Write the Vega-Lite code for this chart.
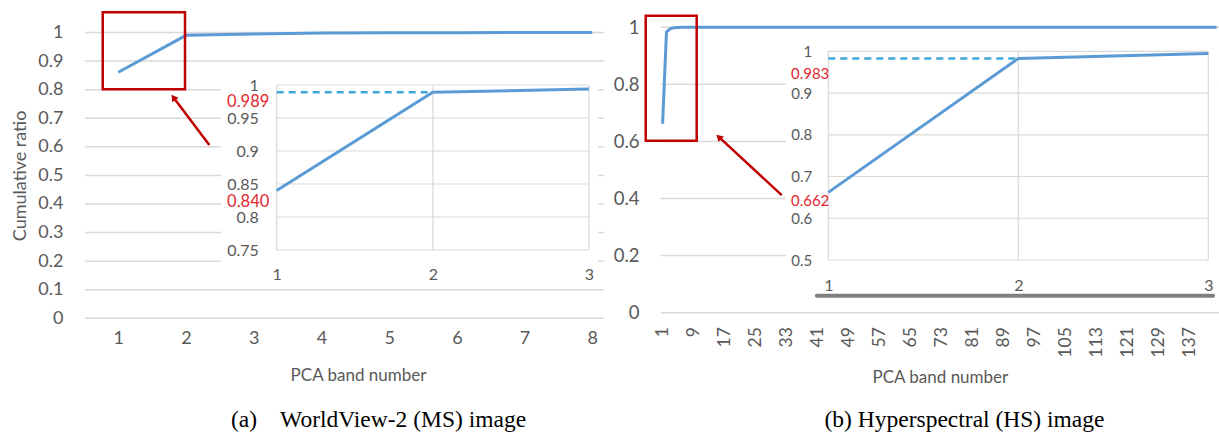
{
  "$schema": "https://vega.github.io/schema/vega-lite/v6.json",
  "width": 1219,
  "height": 435,
  "autosize": "none",
  "padding": 0,
  "background": "white",
  "config": {
    "view": {"stroke": null},
    "font": "Lato",
    "axis": {
      "labelFont": "Lato", "labelColor": "#595959", "titleFont": "Lato", "titleColor": "#595959",
      "titleFontWeight": "normal", "domain": false, "ticks": false, "grid": false,
      "labelFlush": false, "labelOverlap": false
    }
  },
  "datasets": {
    "ms_main": [
      {"band": 1, "ratio": 0.861}, {"band": 2, "ratio": 0.99}, {"band": 3, "ratio": 0.995}, {"band": 4, "ratio": 0.998},
      {"band": 5, "ratio": 0.999}, {"band": 6, "ratio": 0.999}, {"band": 7, "ratio": 1.0}, {"band": 8, "ratio": 1.0}
    ],
    "ms_main_gy": [{"t": 0}, {"t": 0.1}, {"t": 0.2}, {"t": 0.3}, {"t": 0.4}, {"t": 0.5}, {"t": 0.6}, {"t": 0.7}, {"t": 0.8}, {"t": 0.9}, {"t": 1}],
    "hs_main_gy": [{"t": 0}, {"t": 0.2}, {"t": 0.4}, {"t": 0.6}, {"t": 0.8}, {"t": 1}],
    "ms_inset": [{"band": 1, "ratio": 0.84}, {"band": 2, "ratio": 0.989}, {"band": 3, "ratio": 0.994}],
    "ms_inset_gy": [{"t": 0.75}, {"t": 0.8}, {"t": 0.85}, {"t": 0.9}, {"t": 0.95}, {"t": 1}],
    "inset_gx": [{"t": 1}, {"t": 2}, {"t": 3}],
    "hs_inset": [{"band": 1, "ratio": 0.662}, {"band": 2, "ratio": 0.983}, {"band": 3, "ratio": 0.995}],
    "hs_inset_gy": [{"t": 0.5}, {"t": 0.6}, {"t": 0.7}, {"t": 0.8}, {"t": 0.9}, {"t": 1}],
    "hs_main": [
      {"band": 1, "ratio": 0.662}, {"band": 2, "ratio": 0.983}, {"band": 3, "ratio": 0.995}, {"band": 4, "ratio": 0.998},
      {"band": 5, "ratio": 0.999}, {"band": 6, "ratio": 1}, {"band": 7, "ratio": 1}, {"band": 8, "ratio": 1},
      {"band": 9, "ratio": 1}, {"band": 10, "ratio": 1}, {"band": 11, "ratio": 1}, {"band": 12, "ratio": 1},
      {"band": 13, "ratio": 1}, {"band": 14, "ratio": 1}, {"band": 15, "ratio": 1}, {"band": 16, "ratio": 1},
      {"band": 17, "ratio": 1}, {"band": 18, "ratio": 1}, {"band": 19, "ratio": 1}, {"band": 20, "ratio": 1},
      {"band": 21, "ratio": 1}, {"band": 22, "ratio": 1}, {"band": 23, "ratio": 1}, {"band": 24, "ratio": 1},
      {"band": 25, "ratio": 1}, {"band": 26, "ratio": 1}, {"band": 27, "ratio": 1}, {"band": 28, "ratio": 1},
      {"band": 29, "ratio": 1}, {"band": 30, "ratio": 1}, {"band": 31, "ratio": 1}, {"band": 32, "ratio": 1},
      {"band": 33, "ratio": 1}, {"band": 34, "ratio": 1}, {"band": 35, "ratio": 1}, {"band": 36, "ratio": 1},
      {"band": 37, "ratio": 1}, {"band": 38, "ratio": 1}, {"band": 39, "ratio": 1}, {"band": 40, "ratio": 1},
      {"band": 41, "ratio": 1}, {"band": 42, "ratio": 1}, {"band": 43, "ratio": 1}, {"band": 44, "ratio": 1},
      {"band": 45, "ratio": 1}, {"band": 46, "ratio": 1}, {"band": 47, "ratio": 1}, {"band": 48, "ratio": 1},
      {"band": 49, "ratio": 1}, {"band": 50, "ratio": 1}, {"band": 51, "ratio": 1}, {"band": 52, "ratio": 1},
      {"band": 53, "ratio": 1}, {"band": 54, "ratio": 1}, {"band": 55, "ratio": 1}, {"band": 56, "ratio": 1},
      {"band": 57, "ratio": 1}, {"band": 58, "ratio": 1}, {"band": 59, "ratio": 1}, {"band": 60, "ratio": 1},
      {"band": 61, "ratio": 1}, {"band": 62, "ratio": 1}, {"band": 63, "ratio": 1}, {"band": 64, "ratio": 1},
      {"band": 65, "ratio": 1}, {"band": 66, "ratio": 1}, {"band": 67, "ratio": 1}, {"band": 68, "ratio": 1},
      {"band": 69, "ratio": 1}, {"band": 70, "ratio": 1}, {"band": 71, "ratio": 1}, {"band": 72, "ratio": 1},
      {"band": 73, "ratio": 1}, {"band": 74, "ratio": 1}, {"band": 75, "ratio": 1}, {"band": 76, "ratio": 1},
      {"band": 77, "ratio": 1}, {"band": 78, "ratio": 1}, {"band": 79, "ratio": 1}, {"band": 80, "ratio": 1},
      {"band": 81, "ratio": 1}, {"band": 82, "ratio": 1}, {"band": 83, "ratio": 1}, {"band": 84, "ratio": 1},
      {"band": 85, "ratio": 1}, {"band": 86, "ratio": 1}, {"band": 87, "ratio": 1}, {"band": 88, "ratio": 1},
      {"band": 89, "ratio": 1}, {"band": 90, "ratio": 1}, {"band": 91, "ratio": 1}, {"band": 92, "ratio": 1},
      {"band": 93, "ratio": 1}, {"band": 94, "ratio": 1}, {"band": 95, "ratio": 1}, {"band": 96, "ratio": 1},
      {"band": 97, "ratio": 1}, {"band": 98, "ratio": 1}, {"band": 99, "ratio": 1}, {"band": 100, "ratio": 1},
      {"band": 101, "ratio": 1}, {"band": 102, "ratio": 1}, {"band": 103, "ratio": 1}, {"band": 104, "ratio": 1},
      {"band": 105, "ratio": 1}, {"band": 106, "ratio": 1}, {"band": 107, "ratio": 1}, {"band": 108, "ratio": 1},
      {"band": 109, "ratio": 1}, {"band": 110, "ratio": 1}, {"band": 111, "ratio": 1}, {"band": 112, "ratio": 1},
      {"band": 113, "ratio": 1}, {"band": 114, "ratio": 1}, {"band": 115, "ratio": 1}, {"band": 116, "ratio": 1},
      {"band": 117, "ratio": 1}, {"band": 118, "ratio": 1}, {"band": 119, "ratio": 1}, {"band": 120, "ratio": 1},
      {"band": 121, "ratio": 1}, {"band": 122, "ratio": 1}, {"band": 123, "ratio": 1}, {"band": 124, "ratio": 1},
      {"band": 125, "ratio": 1}, {"band": 126, "ratio": 1}, {"band": 127, "ratio": 1}, {"band": 128, "ratio": 1},
      {"band": 129, "ratio": 1}, {"band": 130, "ratio": 1}, {"band": 131, "ratio": 1}, {"band": 132, "ratio": 1},
      {"band": 133, "ratio": 1}, {"band": 134, "ratio": 1}, {"band": 135, "ratio": 1}, {"band": 136, "ratio": 1},
      {"band": 137, "ratio": 1}, {"band": 138, "ratio": 1}, {"band": 139, "ratio": 1}, {"band": 140, "ratio": 1},
      {"band": 141, "ratio": 1}, {"band": 142, "ratio": 1}, {"band": 143, "ratio": 1}, {"band": 144, "ratio": 1}
    ]
  },
  "layer": [
    {
      "data": {"name": "ms_main_gy"},
      "mark": {"type": "rule", "color": "#D9D9D9", "strokeWidth": 1.5},
      "encoding": {
        "y": {"field": "t", "type": "quantitative", "scale": {"domain": [0, 1], "range": [318.3, 32.5], "nice": false, "zero": false}, "axis": null},
        "x": {"datum": 0.508, "type": "quantitative", "scale": {"domain": [0.508, 8.173], "range": [85, 604], "nice": false, "zero": false}, "axis": null},
        "x2": {"datum": 8.173}
      }
    },
    {
      "data": {"name": "hs_main_gy"},
      "mark": {"type": "rule", "color": "#D9D9D9", "strokeWidth": 1.5},
      "encoding": {
        "y": {"field": "t", "type": "quantitative", "scale": {"domain": [0, 1], "range": [312.7, 27.2], "nice": false, "zero": false}, "axis": null},
        "x": {"datum": 0.51, "type": "quantitative", "scale": {"domain": [0.51, 144.62], "range": [660.7, 1219], "nice": false, "zero": false}, "axis": null},
        "x2": {"datum": 144.62}
      }
    },
    {
      "data": {"name": "ms_main"},
      "mark": {"type": "line", "color": "#5B9BD5", "strokeWidth": 3},
      "encoding": {
        "x": {"field": "band", "type": "quantitative",
          "scale": {"domain": [0.508, 8.173], "range": [85, 604], "nice": false, "zero": false},
          "axis": {"orient": "bottom", "values": [1, 2, 3, 4, 5, 6, 7, 8], "format": "d", "labelFontSize": 18, "labelPadding": 0,
            "grid": false, "labelOverlap": false, "labelFlush": false,
            "offset": -106, "title": "PCA band number", "titleFontSize": 17, "titlePadding": 20, "titleX": 358}},
        "y": {"field": "ratio", "type": "quantitative",
          "scale": {"domain": [0, 1], "range": [318.3, 32.5], "nice": false, "zero": false},
          "axis": {"orient": "left", "values": [0, 0.1, 0.2, 0.3, 0.4, 0.5, 0.6, 0.7, 0.8, 0.9, 1], "format": "~g",
            "labelFontSize": 18, "offset": -70, "labelPadding": 7, "grid": false, "labelOverlap": false,
            "title": "Cumulative ratio", "titleFontSize": 18, "titlePadding": 8}}
      }
    },
    {
      "data": {"values": [{}]},
      "mark": {"type": "rect", "fill": "white", "fillOpacity": 0, "stroke": "#C00000", "strokeWidth": 2.5},
      "encoding": {
        "x": {"datum": 0.77, "type": "quantitative", "scale": {"domain": [0.508, 8.173], "range": [85, 604], "nice": false, "zero": false}, "axis": null},
        "x2": {"datum": 1.985},
        "y": {"datum": 1.071, "type": "quantitative", "scale": {"domain": [0, 1], "range": [318.3, 32.5], "nice": false, "zero": false}, "axis": null},
        "y2": {"datum": 0.801}
      }
    },
    {
      "data": {"values": [{}]},
      "mark": {"type": "rule", "color": "#C00000", "strokeWidth": 2.5},
      "encoding": {
        "x": {"datum": 2.344, "type": "quantitative", "scale": {"domain": [0.508, 8.173], "range": [85, 604], "nice": false, "zero": false}, "axis": null},
        "x2": {"datum": 1.824},
        "y": {"datum": 0.606, "type": "quantitative", "scale": {"domain": [0, 1], "range": [318.3, 32.5], "nice": false, "zero": false}, "axis": null},
        "y2": {"datum": 0.77}
      }
    },
    {
      "data": {"values": [{}]},
      "mark": {"type": "point", "shape": "triangle", "filled": true, "color": "#C00000", "opacity": 1, "size": 60, "angle": 323},
      "encoding": {
        "x": {"datum": 1.824, "type": "quantitative", "scale": {"domain": [0.508, 8.173], "range": [85, 604], "nice": false, "zero": false}, "axis": null},
        "y": {"datum": 0.77, "type": "quantitative", "scale": {"domain": [0, 1], "range": [318.3, 32.5], "nice": false, "zero": false}, "axis": null}
      }
    },
    {
      "data": {"values": [{}]},
      "mark": {"type": "text", "font": "Liberation Serif", "fontSize": 23.5, "color": "black", "align": "center", "baseline": "middle"},
      "encoding": {
        "x": {"datum": 4.843, "type": "quantitative", "scale": {"domain": [0.508, 8.173], "range": [85, 604], "nice": false, "zero": false}, "axis": null},
        "y": {"datum": -0.356, "type": "quantitative", "scale": {"domain": [0, 1], "range": [318.3, 32.5], "nice": false, "zero": false}, "axis": null},
        "text": {"value": "(a)\u00a0\u00a0\u00a0 WorldView-2 (MS) image"}
      }
    },
    {
      "data": {"values": [{}]},
      "mark": {"type": "rect", "fill": "white"},
      "encoding": {
        "x": {"datum": 0.643, "type": "quantitative", "scale": {"domain": [1, 3], "range": [276.7, 589], "nice": false, "zero": false}, "axis": null},
        "x2": {"datum": 3.058},
        "y": {"datum": 1.015, "type": "quantitative", "scale": {"domain": [0.75, 1], "range": [250, 85], "nice": false, "zero": false}, "axis": null},
        "y2": {"datum": 0.7015}
      }
    },
    {
      "data": {"name": "ms_inset_gy"},
      "mark": {"type": "rule", "color": "#D9D9D9", "strokeWidth": 1.2},
      "encoding": {
        "y": {"field": "t", "type": "quantitative", "scale": {"domain": [0.75, 1], "range": [250, 85], "nice": false, "zero": false}, "axis": null},
        "x": {"datum": 1, "type": "quantitative", "scale": {"domain": [1, 3], "range": [276.7, 589], "nice": false, "zero": false}, "axis": null},
        "x2": {"datum": 3}
      }
    },
    {
      "data": {"name": "inset_gx"},
      "mark": {"type": "rule", "color": "#D9D9D9", "strokeWidth": 1.2},
      "encoding": {
        "x": {"field": "t", "type": "quantitative", "scale": {"domain": [1, 3], "range": [276.7, 589], "nice": false, "zero": false}, "axis": null},
        "y": {"datum": 0.75, "type": "quantitative", "scale": {"domain": [0.75, 1], "range": [250, 85], "nice": false, "zero": false}, "axis": null},
        "y2": {"datum": 1}
      }
    },
    {
      "data": {"values": [{}]},
      "mark": {"type": "rule", "color": "#3CA8DC", "strokeWidth": 2.5, "strokeDash": [7, 5]},
      "encoding": {
        "x": {"datum": 1, "type": "quantitative", "scale": {"domain": [1, 3], "range": [276.7, 589], "nice": false, "zero": false}, "axis": null},
        "x2": {"datum": 2},
        "y": {"datum": 0.989, "type": "quantitative", "scale": {"domain": [0.75, 1], "range": [250, 85], "nice": false, "zero": false}, "axis": null}
      }
    },
    {
      "data": {"name": "ms_inset"},
      "mark": {"type": "line", "color": "#5B9BD5", "strokeWidth": 3},
      "encoding": {
        "x": {"field": "band", "type": "quantitative", "scale": {"domain": [1, 3], "range": [276.7, 589], "nice": false, "zero": false},
          "axis": {"orient": "bottom", "values": [1, 1.5, 2, 2.5, 3], "labelExpr": "datum.value % 1 == 0 ? format(datum.value, 'd') : ''",
            "labelFontSize": 16, "labelPadding": 0, "offset": -168.7, "title": null, "zindex": 1,
            "grid": false, "labelOverlap": false, "labelFlush": false}},
        "y": {"field": "ratio", "type": "quantitative", "scale": {"domain": [0.75, 1], "range": [250, 85], "nice": false, "zero": false},
          "axis": {"orient": "left", "values": [0.75, 0.8, 0.85, 0.9, 0.95, 1], "format": "~g", "labelFontSize": 16, "labelPadding": 0, "offset": -258.3, "title": null, "zindex": 1,
            "grid": false, "labelOverlap": false}}
      }
    },
    {
      "data": {"values": [{}]},
      "mark": {"type": "text", "font": "Lato", "fontSize": 16.5, "color": "#E0282E", "align": "right", "baseline": "middle", "dx": -7.4, "dy": 9.4},
      "encoding": {
        "x": {"datum": 1, "type": "quantitative", "scale": {"domain": [1, 3], "range": [276.7, 589], "nice": false, "zero": false}, "axis": null},
        "y": {"datum": 0.989, "type": "quantitative", "scale": {"domain": [0.75, 1], "range": [250, 85], "nice": false, "zero": false}, "axis": null},
        "text": {"value": "0.989"}
      }
    },
    {
      "data": {"values": [{}]},
      "mark": {"type": "text", "font": "Lato", "fontSize": 16.5, "color": "#E0282E", "align": "right", "baseline": "middle", "dx": -7.4, "dy": 11},
      "encoding": {
        "x": {"datum": 1, "type": "quantitative", "scale": {"domain": [1, 3], "range": [276.7, 589], "nice": false, "zero": false}, "axis": null},
        "y": {"datum": 0.84, "type": "quantitative", "scale": {"domain": [0.75, 1], "range": [250, 85], "nice": false, "zero": false}, "axis": null},
        "text": {"value": "0.840"}
      }
    },
    {
      "data": {"name": "hs_main"},
      "mark": {"type": "line", "color": "#5B9BD5", "strokeWidth": 3},
      "encoding": {
        "x": {"field": "band", "type": "quantitative",
          "scale": {"domain": [0.51, 144.62], "range": [660.7, 1219], "nice": false, "zero": false},
          "axis": {"orient": "bottom", "values": [1, 9, 17, 25, 33, 41, 49, 57, 65, 73, 81, 89, 97, 105, 113, 121, 129, 137],
            "format": "d", "labelFontSize": 17.5, "labelAngle": 270, "labelPadding": 0, "offset": -108.3,
            "grid": false, "labelOverlap": false, "labelFlush": false,
            "title": "PCA band number", "titleFontSize": 17, "titlePadding": 12}},
        "y": {"field": "ratio", "type": "quantitative",
          "scale": {"domain": [0, 1], "range": [312.7, 27.2], "nice": false, "zero": false},
          "axis": {"orient": "left", "values": [0, 0.2, 0.4, 0.6, 0.8, 1], "format": "~g",
            "labelFontSize": 18.5, "offset": -646, "labelPadding": 7, "grid": false, "labelOverlap": false,
            "title": null}}
      }
    },
    {
      "data": {"values": [{}]},
      "mark": {"type": "rect", "fill": "white", "fillOpacity": 0, "stroke": "#C00000", "strokeWidth": 2.5},
      "encoding": {
        "x": {"datum": -3.36, "type": "quantitative", "scale": {"domain": [0.51, 144.62], "range": [660.7, 1219], "nice": false, "zero": false}, "axis": null},
        "x2": {"datum": 9.8},
        "y": {"datum": 1.04, "type": "quantitative", "scale": {"domain": [0, 1], "range": [312.7, 27.2], "nice": false, "zero": false}, "axis": null},
        "y2": {"datum": 0.602}
      }
    },
    {
      "data": {"values": [{}]},
      "mark": {"type": "rule", "color": "#C00000", "strokeWidth": 2.5},
      "encoding": {
        "x": {"datum": 31.74, "type": "quantitative", "scale": {"domain": [0.51, 144.62], "range": [660.7, 1219], "nice": false, "zero": false}, "axis": null},
        "x2": {"datum": 15.71},
        "y": {"datum": 0.412, "type": "quantitative", "scale": {"domain": [0, 1], "range": [312.7, 27.2], "nice": false, "zero": false}, "axis": null},
        "y2": {"datum": 0.613}
      }
    },
    {
      "data": {"values": [{}]},
      "mark": {"type": "point", "shape": "triangle", "filled": true, "color": "#C00000", "opacity": 1, "size": 60, "angle": 313},
      "encoding": {
        "x": {"datum": 15.71, "type": "quantitative", "scale": {"domain": [0.51, 144.62], "range": [660.7, 1219], "nice": false, "zero": false}, "axis": null},
        "y": {"datum": 0.613, "type": "quantitative", "scale": {"domain": [0, 1], "range": [312.7, 27.2], "nice": false, "zero": false}, "axis": null}
      }
    },
    {
      "data": {"values": [{}]},
      "mark": {"type": "text", "font": "Liberation Serif", "fontSize": 23.5, "color": "black", "align": "center", "baseline": "middle"},
      "encoding": {
        "x": {"datum": 78.93, "type": "quantitative", "scale": {"domain": [0.51, 144.62], "range": [660.7, 1219], "nice": false, "zero": false}, "axis": null},
        "y": {"datum": -0.376, "type": "quantitative", "scale": {"domain": [0, 1], "range": [312.7, 27.2], "nice": false, "zero": false}, "axis": null},
        "text": {"value": "(b) Hyperspectral (HS) image"}
      }
    },
    {
      "data": {"values": [{}]},
      "mark": {"type": "rect", "fill": "white"},
      "encoding": {
        "x": {"datum": 0.777, "type": "quantitative", "scale": {"domain": [1, 3], "range": [828.3, 1208.3], "nice": false, "zero": false}, "axis": null},
        "x2": {"datum": 3.056},
        "y": {"datum": 1.032, "type": "quantitative", "scale": {"domain": [0.5, 1], "range": [260, 51.3], "nice": false, "zero": false}, "axis": null},
        "y2": {"datum": 0.397}
      }
    },
    {
      "data": {"name": "hs_inset_gy"},
      "mark": {"type": "rule", "color": "#D9D9D9", "strokeWidth": 1.2},
      "encoding": {
        "y": {"field": "t", "type": "quantitative", "scale": {"domain": [0.5, 1], "range": [260, 51.3], "nice": false, "zero": false}, "axis": null},
        "x": {"datum": 1, "type": "quantitative", "scale": {"domain": [1, 3], "range": [828.3, 1208.3], "nice": false, "zero": false}, "axis": null},
        "x2": {"datum": 3}
      }
    },
    {
      "data": {"name": "inset_gx"},
      "mark": {"type": "rule", "color": "#D9D9D9", "strokeWidth": 1.2},
      "encoding": {
        "x": {"field": "t", "type": "quantitative", "scale": {"domain": [1, 3], "range": [828.3, 1208.3], "nice": false, "zero": false}, "axis": null},
        "y": {"datum": 0.5, "type": "quantitative", "scale": {"domain": [0.5, 1], "range": [260, 51.3], "nice": false, "zero": false}, "axis": null},
        "y2": {"datum": 1}
      }
    },
    {
      "data": {"values": [{}]},
      "mark": {"type": "rule", "color": "#7F7F7F", "strokeWidth": 4, "strokeCap": "round"},
      "encoding": {
        "x": {"datum": 0.94, "type": "quantitative", "scale": {"domain": [1, 3], "range": [828.3, 1208.3], "nice": false, "zero": false}, "axis": null},
        "x2": {"datum": 3.025},
        "y": {"datum": 0.4145, "type": "quantitative", "scale": {"domain": [0.5, 1], "range": [260, 51.3], "nice": false, "zero": false}, "axis": null}
      }
    },
    {
      "data": {"values": [{}]},
      "mark": {"type": "rule", "color": "#3CA8DC", "strokeWidth": 2.5, "strokeDash": [7, 5]},
      "encoding": {
        "x": {"datum": 1, "type": "quantitative", "scale": {"domain": [1, 3], "range": [828.3, 1208.3], "nice": false, "zero": false}, "axis": null},
        "x2": {"datum": 2},
        "y": {"datum": 0.983, "type": "quantitative", "scale": {"domain": [0.5, 1], "range": [260, 51.3], "nice": false, "zero": false}, "axis": null}
      }
    },
    {
      "data": {"name": "hs_inset"},
      "mark": {"type": "line", "color": "#5B9BD5", "strokeWidth": 3},
      "encoding": {
        "x": {"field": "band", "type": "quantitative", "scale": {"domain": [1, 3], "range": [828.3, 1208.3], "nice": false, "zero": false},
          "axis": {"orient": "bottom", "tickCount": 2, "format": "d", "labelFontSize": 16, "labelPadding": 0, "offset": -158, "title": null, "zindex": 1,
            "grid": false, "labelOverlap": false, "labelFlush": false}},
        "y": {"field": "ratio", "type": "quantitative", "scale": {"domain": [0.5, 1], "range": [260, 51.3], "nice": false, "zero": false},
          "axis": {"orient": "left", "values": [0.5, 0.6, 0.7, 0.8, 0.9, 1], "format": "~g", "labelFontSize": 15, "labelPadding": 0, "offset": -811.7, "title": null, "zindex": 1,
            "grid": false, "labelOverlap": false}}
      }
    },
    {
      "data": {"values": [{}]},
      "mark": {"type": "text", "font": "Lato", "fontSize": 15, "color": "#E0282E", "align": "right", "baseline": "middle", "dx": 1, "dy": 16},
      "encoding": {
        "x": {"datum": 1, "type": "quantitative", "scale": {"domain": [1, 3], "range": [828.3, 1208.3], "nice": false, "zero": false}, "axis": null},
        "y": {"datum": 0.983, "type": "quantitative", "scale": {"domain": [0.5, 1], "range": [260, 51.3], "nice": false, "zero": false}, "axis": null},
        "text": {"value": "0.983"}
      }
    },
    {
      "data": {"values": [{}]},
      "mark": {"type": "text", "font": "Lato", "fontSize": 15, "color": "#E0282E", "align": "right", "baseline": "middle", "dx": 1, "dy": 8.6},
      "encoding": {
        "x": {"datum": 1, "type": "quantitative", "scale": {"domain": [1, 3], "range": [828.3, 1208.3], "nice": false, "zero": false}, "axis": null},
        "y": {"datum": 0.662, "type": "quantitative", "scale": {"domain": [0.5, 1], "range": [260, 51.3], "nice": false, "zero": false}, "axis": null},
        "text": {"value": "0.662"}
      }
    }
  ],
  "resolve": {
    "scale": {"x": "independent", "y": "independent"},
    "axis": {"x": "independent", "y": "independent"}
  }
}
